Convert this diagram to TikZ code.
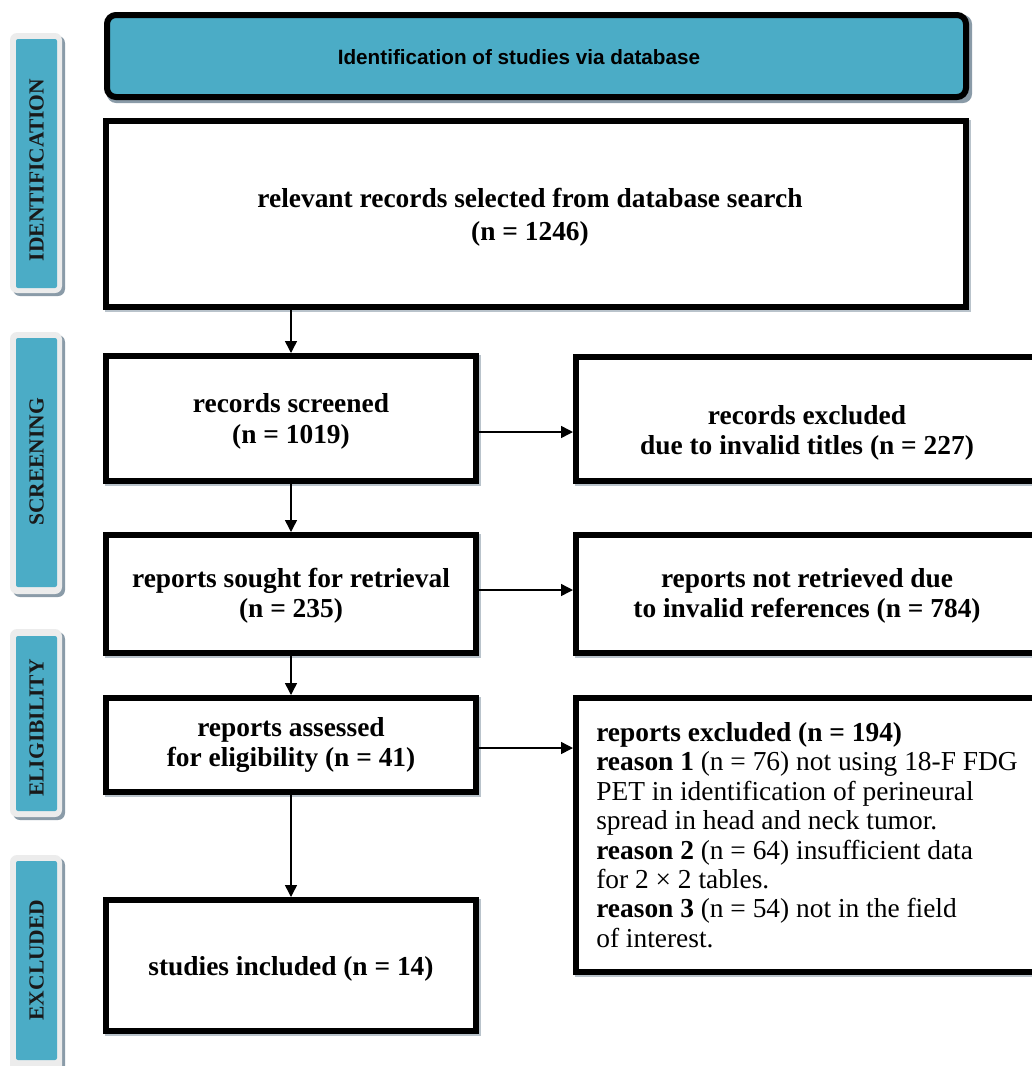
\documentclass[tikz,border=0pt]{standalone}
\usepackage{fontspec}
\setmainfont{Liberation Serif}
\newfontfamily\bannerfont{Liberation Sans}
\usetikzlibrary{arrows.meta}
\definecolor{teal1}{HTML}{4BACC6}
\definecolor{shade1}{HTML}{8A9BA8}
\definecolor{pale}{HTML}{ECECEC}
\tikzset{
  box/.style={draw=black, line width=6pt, fill=white, inner sep=0pt, align=center,
    font=\bfseries\fontsize{27.4}{30.5}\selectfont},
  boxtext/.style={inner sep=0pt, align=center, font=\bfseries\fontsize{27.4}{30.5}\selectfont},
  boxshadow/.style={fill=shade1!60, draw=none, inner sep=0pt},
  sidebox/.style={fill=pale, draw=none, rounded corners=7pt, inner sep=0pt, minimum width=52pt},
  sideshadow/.style={fill=shade1, draw=none, rounded corners=7pt, inner sep=0pt, minimum width=52pt},
  sideinner/.style={fill=teal1, draw=none, rounded corners=2pt, inner sep=0pt, minimum width=41pt},
  sidetext/.style={font=\bfseries\fontsize{21.5}{24}\selectfont, text=black!90, rotate=90, inner sep=0pt},
  arr/.style={line width=1.5pt, -{Triangle[length=12pt, width=12pt]}},
}
\begin{document}
\begin{tikzpicture}[x=1pt, y=-1pt]
\useasboundingbox (0,0) rectangle (1032,1066);
\clip (0,0) rectangle (1032,1066);
\fill[white] (0,0) rectangle (1032,1066);

% side labels
\node[sideshadow, minimum height=260pt] (s1s) at (39,166) {};
\node[sidebox, minimum height=260pt] (s1o) at (36,163) {};
\node[sideinner, minimum height=249pt] (s1) at (36.5,163.5) {};
\node[sidetext] (s1t) at (36.5,170) {IDENTIFICATION};

\node[sideshadow, minimum height=262pt] (s2s) at (39,466) {};
\node[sidebox, minimum height=262pt] (s2o) at (36,463) {};
\node[sideinner, minimum height=249pt] (s2) at (36.5,462.5) {};
\node[sidetext] (s2t) at (36.5,462) {SCREENING};

\node[sideshadow, minimum height=188pt] (s3s) at (39,726) {};
\node[sidebox, minimum height=188pt] (s3o) at (36,723) {};
\node[sideinner, minimum height=175pt] (s3) at (36.5,723.5) {};
\node[sidetext] (s3t) at (36.5,728) {ELIGIBILITY};

\node[sideshadow, minimum height=220pt] (s4s) at (39,968) {};
\node[sidebox, minimum height=220pt] (s4o) at (36,965) {};
\node[sideinner, minimum height=199pt] (s4) at (36.5,960.5) {};
\node[sidetext] (s4t) at (36.5,960) {EXCLUDED};

% banner
\node[fill=shade1, rounded corners=9pt, minimum width=865pt, minimum height=88pt, inner sep=0pt] (bans) at (539.5,59) {};
\node[draw=black, line width=6pt, fill=teal1, rounded corners=9pt, minimum width=859pt, minimum height=82pt, inner sep=0pt] (ban) at (536.5,56) {};
\node[font=\bannerfont\bfseries\fontsize{20.7}{24}\selectfont, inner sep=0pt] (bant) at (519,57) {Identification of studies via database};

% main boxes
\node[boxshadow, minimum width=866pt, minimum height=192pt] (b1s) at (537.5,215.5) {};
\node[box, minimum width=860pt, minimum height=186pt] (b1) at (536,214) {};
\node[font=\bfseries\fontsize{27.4}{33}\selectfont, align=center, inner sep=0pt] (b1t) at (530,217)
  {relevant records selected from database search\\(n = 1246)};

\node[boxshadow, minimum width=376pt, minimum height=131pt] (scs) at (292.5,420) {};
\node[box, minimum width=370pt, minimum height=125pt] (sc) at (291,418.5) {};
\node[boxtext] (sct) at (291,421.5) {records screened\\(n = 1019)};

\node[boxshadow, minimum width=468pt, minimum height=130pt] (ex1s) at (808.5,420.5) {};
\node[box, minimum width=462pt, minimum height=124pt] (ex1) at (807,419) {};
\node[boxtext] (ex1t) at (807,433) {records excluded\\due to invalid titles (n = 227)};

\node[boxshadow, minimum width=376pt, minimum height=124pt] (sos) at (292.5,595.5) {};
\node[box, minimum width=370pt, minimum height=118pt] (so) at (291,594) {};
\node[boxtext] (sot) at (291,596) {reports sought for retrieval\\(n = 235)};

\node[boxshadow, minimum width=468pt, minimum height=124pt] (nrs) at (808.5,595.5) {};
\node[box, minimum width=462pt, minimum height=118pt] (nr) at (807,594) {};
\node[boxtext] (nrt) at (807,596) {reports not retrieved due\\to invalid references (n = 784)};

\node[boxshadow, minimum width=376pt, minimum height=100pt] (ass) at (292.5,746.5) {};
\node[box, minimum width=370pt, minimum height=94pt] (as) at (291,745) {reports assessed\\for eligibility (n = 41)};

\node[boxshadow, minimum width=468pt, minimum height=280pt] (ex3s) at (808.5,836.5) {};
\node[box, minimum width=462pt, minimum height=274pt, align=left,
  font=\fontsize{27.4}{29.4}\selectfont] (ex3) at (807,835)
  {\textbf{reports excluded (n = 194)}\\
   \textbf{reason 1} (n = 76) not using 18-F FDG\\
   PET in identification of perineural\\
   spread in head and neck tumor.\\
   \textbf{reason 2} (n = 64) insufficient data\\
   for 2 × 2 tables.\\
   \textbf{reason 3} (n = 54) not in the field\\
   of interest.};

\node[boxshadow, minimum width=376pt, minimum height=137pt] (incs) at (292.5,967) {};
\node[box, minimum width=370pt, minimum height=131pt] (inc) at (291,965.5) {};
\node[boxtext] (inct) at (291,968.5) {studies included (n = 14)};

% connectors
\draw[arr] (b1.south -| sc.north) -- (sc.north);
\draw[arr] (sc.south) -- (so.north);
\draw[arr] (so.south) -- (as.north);
\draw[arr] (as.south) -- (inc.north);
\draw[arr] (sc.east |- 0,432) -- (ex1.west |- 0,432);
\draw[arr] (so.east |- 0,590) -- (nr.west |- 0,590);
\draw[arr] (as.east |- 0,748) -- (ex3.west |- 0,748);
\end{tikzpicture}
\end{document}
